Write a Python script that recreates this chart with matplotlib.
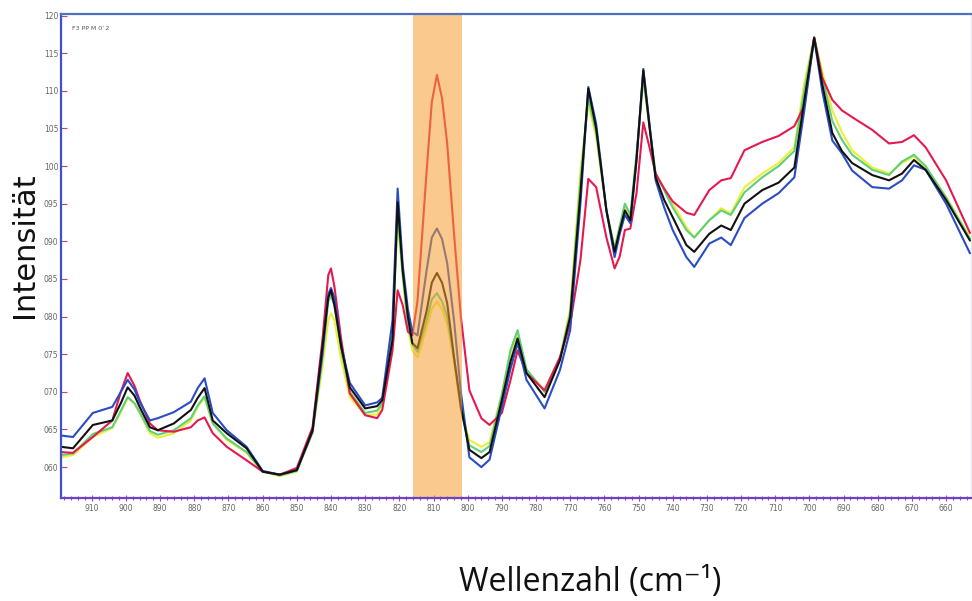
import matplotlib
matplotlib.use("Agg")
import matplotlib.pyplot as plt
from matplotlib.ticker import MultipleLocator, FuncFormatter

# Wellenzahl-Raster (cm-1), absteigend
wn = [919, 915.5, 909.7, 904, 901.5, 899.5, 897.5, 896, 893, 890.7, 886, 881, 879, 877,
      874.6, 870.5, 864.7, 860, 855, 850, 845.4, 842.5, 840.8, 840, 839, 837, 834.5,
      830, 826.5, 825, 822, 820.5, 819, 817.5, 816.2, 814.7, 812, 810.5, 809, 807.5,
      806, 804, 802, 799.5, 796, 793.6, 790, 787.5, 785.4, 782.8, 777.5, 773, 770,
      767, 764.7, 762.4, 759.4, 757, 755.5, 754, 752.4, 750.6, 748.6, 746.8, 745,
      742.5, 740, 736, 733.7, 729.3, 725.8, 723, 719, 713.8, 709, 704.4, 701.5,
      698.6, 696.3, 693.3, 690.5, 687.5, 681.6, 676.7, 672.9, 669.4, 666, 660, 653]

# Intensitäten der Spektren
schwarz = [62.7, 62.5, 65.6, 66.2, 68.5, 70.6, 69.5, 68.0, 65.3, 64.9, 65.8, 67.6, 69.2, 70.5,
           66.2, 64.5, 62.5, 59.4, 59.0, 59.6, 64.9, 76.0, 82.5, 83.5, 81.5, 76.0, 70.6,
           67.8, 68.1, 68.9, 76.9, 95.2, 86.0, 80.0, 76.5, 75.8, 80.8, 84.5, 85.8, 84.5,
           81.8, 74.6, 68.0, 62.3, 61.2, 62.0, 68.9, 74.0, 77.1, 72.5, 69.3, 74.2, 80.0,
           96.4, 110.3, 105.0, 94.1, 88.6, 91.5, 94.1, 92.8, 100.8, 112.7, 105.2, 98.5,
           95.5, 93.2, 89.5, 88.6, 91.0, 92.1, 91.5, 95.0, 96.8, 97.8, 99.8, 108.7,
           117.0, 111.0, 104.4, 102.0, 100.4, 98.8, 98.1, 99.0, 100.8, 99.5, 95.5, 90.1]
rot = [62.0, 61.9, 64.0, 66.2, 70.0, 72.5, 70.8, 68.9, 65.8, 64.9, 64.7, 65.3, 66.2, 66.6,
       64.5, 62.7, 60.9, 59.4, 59.0, 59.9, 65.3, 76.9, 85.5, 86.4, 84.0, 76.9, 69.8,
       66.9, 66.5, 67.6, 75.5, 83.5, 81.5, 78.0, 77.5, 82.0, 99.4, 108.5, 112.1, 109.0,
       103.0, 91.0, 80.0, 70.2, 66.5, 65.6, 67.2, 71.5, 75.5, 72.5, 70.2, 74.6, 79.0,
       87.5, 98.3, 97.2, 90.5, 86.4, 88.0, 91.5, 91.7, 96.4, 105.8, 102.5, 99.0,
       97.0, 95.3, 93.8, 93.5, 96.8, 98.1, 98.4, 102.1, 103.2, 104.0, 105.3, 108.0,
       117.1, 111.8, 108.8, 107.4, 106.5, 104.8, 103.0, 103.2, 104.1, 102.5, 98.1, 91.1]
blau = [64.2, 64.0, 67.2, 68.0, 70.0, 71.6, 70.3, 68.7, 66.2, 66.5, 67.3, 68.7, 70.5, 71.8,
        67.2, 64.9, 62.7, 59.5, 59.0, 59.6, 64.7, 75.1, 83.0, 83.8, 82.5, 76.0, 71.2,
        68.2, 68.6, 69.2, 79.5, 97.0, 86.8, 81.0, 78.0, 77.5, 86.2, 90.5, 91.7, 90.3,
        87.1, 79.5, 70.0, 61.3, 60.0, 61.0, 68.0, 73.0, 76.5, 71.6, 67.8, 72.9, 78.2,
        95.0, 110.5, 105.6, 94.1, 87.9, 91.0, 93.5, 92.4, 100.8, 112.9, 105.6, 98.1,
        94.5, 91.5, 87.9, 86.6, 89.7, 90.5, 89.5, 93.1, 95.0, 96.4, 98.5, 107.4,
        117.0, 110.1, 103.4, 101.7, 99.4, 97.2, 97.0, 98.1, 100.1, 99.5, 95.0, 88.4]
gelb = [61.3, 61.6, 64.0, 65.2, 67.3, 69.2, 68.4, 67.2, 64.5, 63.9, 64.5, 66.2, 68.0, 69.2,
        65.8, 63.6, 61.9, 59.4, 58.8, 59.4, 64.5, 73.3, 79.5, 80.4, 79.5, 74.2, 69.3,
        66.9, 67.0, 68.2, 78.2, 93.2, 85.2, 78.5, 75.5, 74.6, 78.5, 81.0, 82.0, 81.0,
        79.0, 74.0, 67.5, 63.6, 62.7, 63.3, 69.8, 75.0, 77.8, 72.9, 70.2, 74.6, 81.0,
        99.4, 108.3, 103.8, 94.1, 89.1, 92.0, 94.5, 93.2, 101.7, 111.4, 105.2, 99.0,
        97.0, 95.0, 91.9, 90.5, 92.8, 94.4, 93.7, 97.2, 99.0, 100.4, 102.5, 111.0,
        117.1, 112.7, 107.4, 104.5, 102.1, 99.8, 99.0, 100.4, 101.3, 99.8, 95.9, 90.5]
gruen = [61.6, 61.8, 64.4, 65.3, 67.5, 69.3, 68.5, 67.3, 64.8, 64.3, 64.9, 66.5, 68.2, 69.4,
         65.8, 63.8, 62.0, 59.4, 58.9, 59.5, 64.7, 74.5, 82.0, 82.8, 81.5, 75.5, 70.0,
         67.2, 67.5, 68.5, 77.8, 93.7, 85.5, 79.0, 76.3, 75.3, 79.5, 82.3, 83.1, 82.0,
         80.0, 74.5, 68.0, 62.9, 62.0, 62.8, 69.6, 75.5, 78.2, 73.0, 70.0, 74.4, 80.5,
         98.0, 109.0, 104.5, 94.1, 89.0, 92.0, 95.0, 93.5, 101.5, 111.8, 105.4, 99.0,
         96.8, 94.5, 91.5, 90.5, 92.8, 94.1, 93.5, 96.5, 98.5, 100.0, 102.0, 110.0,
         117.1, 112.0, 106.0, 103.5, 101.5, 99.5, 98.8, 100.6, 101.5, 100.0, 95.8, 90.3]

serien = [
    (gelb, "#eeee3a"),
    (gruen, "#5fd07a"),
    (rot, "#e5194f"),
    (blau, "#2a4cc4"),
    (schwarz, "#111111"),
]

band = (816.1, 801.8)

fig = plt.figure(figsize=(9.72, 6.01), dpi=100)
ax = fig.add_axes([0.0628, 0.1714, 0.9362, 0.8053])

for werte, farbe in serien:
    ax.plot(wn, werte, color=farbe, linewidth=1.5, zorder=2,
            solid_joinstyle="round", solid_capstyle="round")

# markierter Bereich
ax.axvspan(band[0], band[1], color="#f69d31", alpha=0.55, lw=0, zorder=2.1)

ax.set_xlim(919, 652.7)
ax.set_ylim(55.9, 120.2)

ax.xaxis.set_major_locator(MultipleLocator(10))
ax.xaxis.set_minor_locator(MultipleLocator(2))
ax.yaxis.set_major_locator(MultipleLocator(5))
ax.yaxis.set_major_formatter(FuncFormatter(lambda v, p: "%03d" % round(v)))
ax.xaxis.set_major_formatter(FuncFormatter(lambda v, p: "%d" % round(v)))

ax.tick_params(axis="x", which="major", direction="inout", length=5, width=0.8,
               color="#c0408a", labelsize=5.5, labelcolor="#666666", pad=2)
ax.tick_params(axis="x", which="minor", direction="inout", length=2.5, width=0.8,
               color="#c0408a")
ax.tick_params(axis="y", which="major", direction="in", length=4, width=0.8,
               color="#c0408a", labelsize=5.5, labelcolor="#666666", pad=2)

ax.spines["left"].set_color("#3f4fd0")
ax.spines["left"].set_linewidth(1.6)
ax.spines["top"].set_color("#4f6fc0")
ax.spines["top"].set_linewidth(1.6)
ax.spines["bottom"].set_color("#6a44c8")
ax.spines["bottom"].set_linewidth(1.6)
ax.spines["right"].set_color("#e8e8f0")
ax.spines["right"].set_linewidth(0.8)

ax.text(0.012, 0.975, "F3 PP M 0`2", transform=ax.transAxes, fontsize=4.5,
        color="#555555", ha="left", va="top")

fig.text(25 / 972, 1 - 245 / 601, "Intensität", rotation=90, fontsize=22,
         ha="center", va="center", color="#111111")
fig.text(590 / 972, 1 - 582 / 601, "Wellenzahl (cm⁻¹)", fontsize=23,
         family=["Open Sans", "DejaVu Sans"], ha="center", va="center", color="#111111")

fig.savefig("out.png", dpi=100)
